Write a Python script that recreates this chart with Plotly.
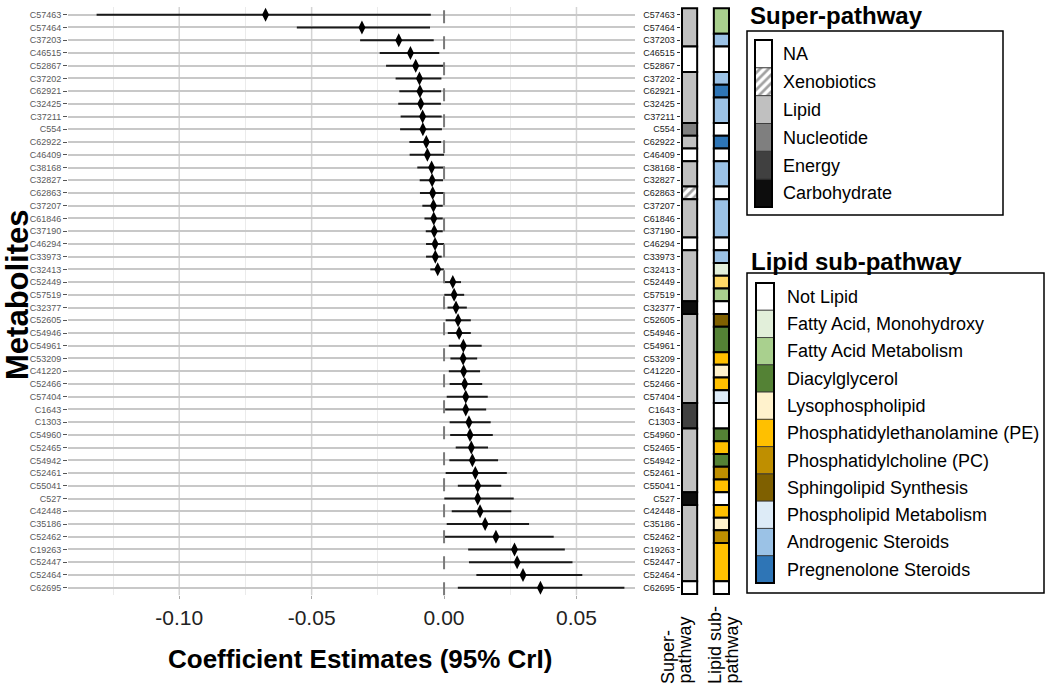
import plotly.graph_objects as go

# ---------------- data ----------------
metabolites = ["C57463", "C57464", "C37203", "C46515", "C52867", "C37202", "C62921", "C32425",
               "C37211", "C554", "C62922", "C46409", "C38168", "C32827", "C62863", "C37207",
               "C61846", "C37190", "C46294", "C33973", "C32413", "C52449", "C57519", "C32377",
               "C52605", "C54946", "C54961", "C53209", "C41220", "C52466", "C57404", "C1643",
               "C1303", "C54960", "C52465", "C54942", "C52461", "C55041", "C527", "C42448",
               "C35186", "C52462", "C19263", "C52447", "C52464", "C62695"]

estimate = [-0.0674, -0.0310, -0.0171, -0.0127, -0.0107, -0.0093, -0.0091, -0.0088, -0.0081,
            -0.0080, -0.0067, -0.0063, -0.0047, -0.0045, -0.0043, -0.0040, -0.0039, -0.0037,
            -0.0034, -0.0033, -0.0024, 0.0033, 0.0038, 0.0045, 0.0053, 0.0057, 0.0073, 0.0072,
            0.0074, 0.0078, 0.0082, 0.0082, 0.0094, 0.0098, 0.0103, 0.0107, 0.0118, 0.0127,
            0.0127, 0.0136, 0.0155, 0.0196, 0.0266, 0.0276, 0.0298, 0.0364]

lower = [-0.1312, -0.0556, -0.0317, -0.0243, -0.0219, -0.0183, -0.0169, -0.0173, -0.0164,
         -0.0166, -0.0131, -0.0130, -0.0101, -0.0092, -0.0091, -0.0082, -0.0074, -0.0069,
         -0.0068, -0.0068, -0.0052, 0.0001, 0.0001, 0.0013, 0.0006, 0.0014, 0.0018, 0.0024,
         0.0018, 0.0021, 0.0010, 0.0004, 0.0021, 0.0023, 0.0044, 0.0020, 0.0006, 0.0052,
         0.0001, 0.0029, 0.0010, 0.0001, 0.0091, 0.0094, 0.0122, 0.0052]

upper = [-0.0050, -0.0053, -0.0039, -0.0018, 0.0000, -0.0010, -0.0011, -0.0012, -0.0009,
         -0.0008, -0.0011, 0.0000, -0.0003, -0.0004, 0.0000, -0.0005, -0.0005, -0.0005,
         0.0000, -0.0009, -0.0001, 0.0064, 0.0076, 0.0086, 0.0101, 0.0101, 0.0142, 0.0125,
         0.0136, 0.0144, 0.0165, 0.0159, 0.0176, 0.0184, 0.0166, 0.0204, 0.0237, 0.0216,
         0.0263, 0.0254, 0.0321, 0.0414, 0.0456, 0.0485, 0.0522, 0.0681]

super_pathway = ["Lipid", "Lipid", "Lipid", "NA", "NA", "Lipid", "Lipid", "Lipid", "Lipid",
                 "Nucleotide", "Lipid", "NA", "Lipid", "Lipid", "Xenobiotics", "Lipid", "Lipid",
                 "Lipid", "NA", "Lipid", "Lipid", "Lipid", "Lipid", "Carbohydrate", "Lipid",
                 "Lipid", "Lipid", "Lipid", "Lipid", "Lipid", "Lipid", "Energy", "Energy",
                 "Lipid", "Lipid", "Lipid", "Lipid", "Lipid", "Carbohydrate", "Lipid", "Lipid",
                 "Lipid", "Lipid", "Lipid", "Lipid", "NA"]

lipid_subpathway = ["Fatty Acid Metabolism", "Fatty Acid Metabolism", "Androgenic Steroids",
                    "Not Lipid", "Not Lipid", "Androgenic Steroids", "Pregnenolone Steroids",
                    "Androgenic Steroids", "Androgenic Steroids", "Not Lipid",
                    "Pregnenolone Steroids", "Not Lipid", "Androgenic Steroids",
                    "Androgenic Steroids", "Not Lipid", "Androgenic Steroids",
                    "Androgenic Steroids", "Androgenic Steroids", "Not Lipid",
                    "Androgenic Steroids", "Fatty Acid, Monohydroxy", "Other",
                    "Fatty Acid Metabolism", "Not Lipid", "Sphingolipid Synthesis",
                    "Diacylglycerol", "Diacylglycerol", "Phosphatidylethanolamine (PE)",
                    "Lysophospholipid", "Phosphatidylethanolamine (PE)",
                    "Phospholipid Metabolism", "Not Lipid", "Not Lipid", "Diacylglycerol",
                    "Phosphatidylethanolamine (PE)", "Diacylglycerol",
                    "Phosphatidylcholine (PC)", "Phosphatidylethanolamine (PE)", "Not Lipid",
                    "Phosphatidylethanolamine (PE)", "Lysophospholipid",
                    "Phosphatidylcholine (PC)", "Phosphatidylethanolamine (PE)",
                    "Phosphatidylethanolamine (PE)", "Phosphatidylethanolamine (PE)", "Not Lipid"]

super_levels = ["NA", "Xenobiotics", "Lipid", "Nucleotide", "Energy", "Carbohydrate"]
lipid_levels = ["Not Lipid", "Fatty Acid, Monohydroxy", "Fatty Acid Metabolism", "Diacylglycerol",
                "Lysophospholipid", "Phosphatidylethanolamine (PE)", "Phosphatidylcholine (PC)",
                "Sphingolipid Synthesis", "Phospholipid Metabolism", "Androgenic Steroids",
                "Pregnenolone Steroids"]

x_tick_values = [-0.10, -0.05, 0.00, 0.05]
x_tick_labels = ["-0.10", "-0.05", "0.00", "0.05"]
x_major_grid = [-0.10, -0.05, 0.05]
x_minor_grid = [-0.125, -0.075, -0.025, 0.025]

# ---------------- styles ----------------
super_colors = {"NA": "#ffffff", "Xenobiotics": "#ffffff", "Lipid": "#c0c0c0",
                "Nucleotide": "#7f7f7f", "Energy": "#404040", "Carbohydrate": "#0d0d0d"}
super_patterns = {"Xenobiotics": "/"}
lipid_colors = {"Not Lipid": "#ffffff", "Fatty Acid, Monohydroxy": "#e2efda",
                "Fatty Acid Metabolism": "#a9d08e", "Diacylglycerol": "#548235",
                "Lysophospholipid": "#fff2cc", "Phosphatidylethanolamine (PE)": "#ffc000",
                "Phosphatidylcholine (PC)": "#bf8f00", "Sphingolipid Synthesis": "#7f6000",
                "Phospholipid Metabolism": "#ddebf7", "Androgenic Steroids": "#9bc2e6",
                "Pregnenolone Steroids": "#2e75b6", "Other": "#ffd966"}

W, H = 1050, 698
REG = "Liberation Sans, Arial, sans-serif"


def px(x):
    return x / W


def py(y):
    return 1 - y / H


def runs(cats):
    out = []
    start = 0
    for i in range(1, len(cats) + 1):
        if i == len(cats) or cats[i] != cats[start]:
            out.append((start, i - 1, cats[start]))
            start = i
    return out


n = len(metabolites)
rows = list(range(n))
y_range = [n - 1 + 0.6, -0.6]
y_dom = [py(595.3), py(7.1)]

fig = go.Figure()

# forest plot
fig.add_trace(go.Scatter(
    x=estimate, y=rows, mode="markers",
    marker=dict(symbol="diamond-tall", size=10, color="black"),
    error_x=dict(type="data", symmetric=False,
                 array=[u - e for u, e in zip(upper, estimate)],
                 arrayminus=[e - l for e, l in zip(estimate, lower)],
                 color="#1a1a1a", thickness=2, width=0),
    xaxis="x", yaxis="y", showlegend=False, hoverinfo="skip"))

# annotation tiles
SUPER_BASE, LIPID_BASE = 0.0, 2.1
PATTERN = dict(fgcolor="black", size=6, solidity=0.45)
for cats, base, cmap, pats in [(super_pathway, SUPER_BASE, super_colors, super_patterns),
                               (lipid_subpathway, LIPID_BASE, lipid_colors, {})]:
    rr = runs(cats)
    fig.add_trace(go.Bar(
        orientation="h",
        y=[(s + e) / 2 for s, e, c in rr],
        width=[e - s + 1 for s, e, c in rr],
        x=[1] * len(rr), base=base,
        marker=dict(color=[cmap[c] for s, e, c in rr],
                    line=dict(color="black", width=2),
                    pattern=dict(shape=[pats.get(c, "") for s, e, c in rr], **PATTERN)),
        xaxis="x2", yaxis="y2", showlegend=False, hoverinfo="skip"))

# legend swatches
fig.add_trace(go.Bar(
    orientation="h", y=list(range(len(super_levels))), x=[1] * len(super_levels), base=0,
    width=1,
    marker=dict(color=[super_colors[c] for c in super_levels],
                line=dict(color="#333333", width=0.8),
                pattern=dict(shape=[super_patterns.get(c, "") for c in super_levels],
                             **PATTERN)),
    xaxis="x3", yaxis="y3", showlegend=False, hoverinfo="skip"))
fig.add_trace(go.Bar(
    orientation="h", y=list(range(len(lipid_levels))), x=[1] * len(lipid_levels), base=0,
    width=1,
    marker=dict(color=[lipid_colors[c] for c in lipid_levels],
                line=dict(color="#333333", width=0.8)),
    xaxis="x4", yaxis="y4", showlegend=False, hoverinfo="skip"))

# reference / grid lines
for v in x_major_grid:
    fig.add_shape(type="line", xref="x", yref="y domain", x0=v, x1=v, y0=0, y1=1,
                  line=dict(color="#d4d4d4", width=1.5), layer="below")
fig.add_shape(type="line", xref="x", yref="y domain", x0=0, x1=0, y0=0, y1=1,
              line=dict(color="#7a7a7a", width=2, dash="13px,13px"), layer="above")

# boxes
fig.add_shape(type="rect", xref="paper", yref="paper", x0=px(747), x1=px(1003),
              y0=py(215), y1=py(31), line=dict(color="black", width=1.5))
fig.add_shape(type="rect", xref="paper", yref="paper", x0=px(747), x1=px(1044),
              y0=py(593), y1=py(273), line=dict(color="black", width=1.5))
for ax in ["3", "4"]:
    fig.add_shape(type="rect", xref=f"x{ax} domain", yref=f"y{ax} domain", x0=0, x1=1,
                  y0=0, y1=1, line=dict(color="black", width=2))

ann = []
ann.append(dict(text="Metabolites", x=px(18), y=py(295), textangle=-90,
                font=dict(family=REG, size=31, color="black", weight="bold")))
ann.append(dict(text="Coefficient Estimates (95% CrI)", x=px(360), y=py(659),
                font=dict(family=REG, size=26, color="black", weight="bold")))
ann.append(dict(text="Super-pathway", x=px(748), y=py(16), xanchor="left",
                font=dict(family=REG, size=24, color="black", weight="bold")))
ann.append(dict(text="Lipid sub-pathway", x=px(749), y=py(261), xanchor="left",
                font=dict(family=REG, size=24, color="black", weight="bold")))
for t, xx in [("Super-", 668), ("pathway", 684), ("Lipid sub-", 715), ("pathway", 731)]:
    ann.append(dict(text=t, x=px(xx), y=py(686), yanchor="bottom", textangle=-90,
                    font=dict(family=REG, size=18, color="black")))
for a in ann:
    a.setdefault("xref", "paper")
    a.setdefault("yref", "paper")
    a.setdefault("showarrow", False)
    a.setdefault("xanchor", "center")
    a.setdefault("yanchor", "middle")

fig.update_layout(
    width=W, height=H, margin=dict(l=0, r=0, t=0, b=0),
    paper_bgcolor="white", plot_bgcolor="white", showlegend=False, barmode="overlay",
    annotations=ann,
    xaxis=dict(domain=[px(68), px(635)], range=[-0.142, 0.0721], anchor="y",
               tickmode="array", tickvals=x_tick_values, ticktext=x_tick_labels,
               tickfont=dict(family=REG, size=21, color="#222222"),
               ticks="outside", ticklen=3, tickcolor="#aaaaaa",
               showgrid=False, zeroline=False, showline=False,
               minor=dict(tickmode="array", tickvals=x_minor_grid, showgrid=True,
                          gridcolor="#ebebeb", gridwidth=1, ticks="")),
    yaxis=dict(domain=y_dom, range=y_range, anchor="x", tickmode="array", tickvals=rows,
               ticktext=metabolites, tickfont=dict(family=REG, size=9, color="#5a5a5a"),
               ticks="outside", ticklen=4, tickcolor="#555555",
               showgrid=True, gridcolor="#c8c8c8", gridwidth=2, zeroline=False),
    xaxis2=dict(domain=[px(680.5), px(730.5)], range=[-0.1, 3.2], anchor="y2",
                visible=False),
    yaxis2=dict(domain=y_dom, range=y_range, anchor="x2", side="left", tickmode="array",
                tickvals=rows, ticktext=metabolites,
                tickfont=dict(family=REG, size=9, color="#1a1a1a"),
                ticks="outside", ticklen=3, tickcolor="#333333",
                showgrid=False, zeroline=False, showline=False),
    xaxis3=dict(domain=[px(755), px(772)], range=[0, 1], anchor="y3", visible=False),
    yaxis3=dict(domain=[py(207), py(40)], range=[len(super_levels) - 0.5, -0.5], anchor="x3",
                side="right", tickmode="array", tickvals=list(range(len(super_levels))),
                ticktext=super_levels, ticks="", ticklabelstandoff=10,
                tickfont=dict(family=REG, size=18, color="black"),
                showgrid=False, zeroline=False, showline=False),
    xaxis4=dict(domain=[px(756), px(774)], range=[0, 1], anchor="y4", visible=False),
    yaxis4=dict(domain=[py(583), py(283)], range=[len(lipid_levels) - 0.5, -0.5], anchor="x4",
                side="right", tickmode="array", tickvals=list(range(len(lipid_levels))),
                ticktext=lipid_levels, ticks="", ticklabelstandoff=12,
                tickfont=dict(family=REG, size=18, color="black"),
                showgrid=False, zeroline=False, showline=False),
)

fig.write_html("out.html", config={"displayModeBar": False},
               post_script="document.body.style.margin='0px';")
